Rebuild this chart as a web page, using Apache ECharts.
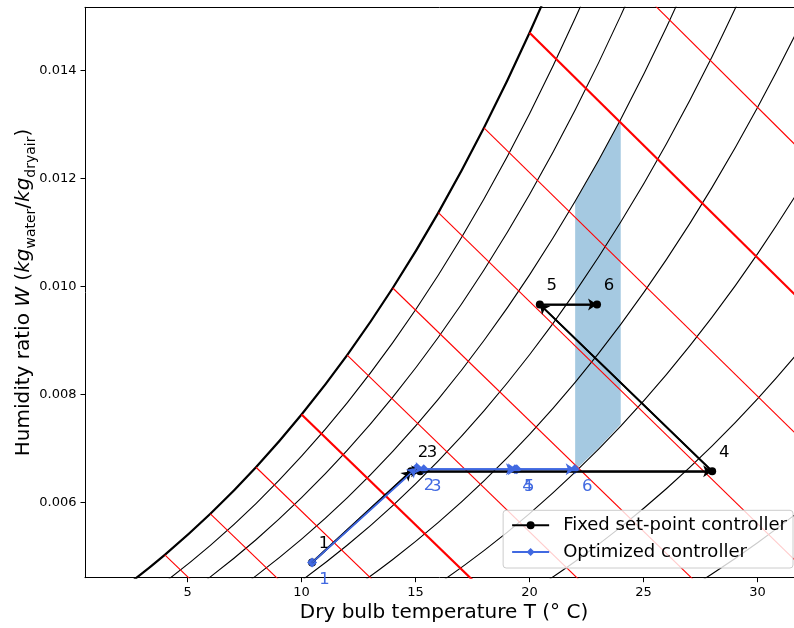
<!DOCTYPE html>
<html>
<head>
<meta charset="utf-8">
<script src="https://cdn.jsdelivr.net/npm/echarts@6/dist/echarts.min.js"></script>
<style>html,body{margin:0;padding:0;background:#fff;overflow:hidden}#chart{width:794px;height:628px}</style>
</head>
<body>
<div id="chart"></div>
<script>
// ---------- data ----------
const rhTemps = [0,2,4,6,8,10,12,14,16,18,20,22,24,26,28,30,32,34];
const rh100 = [0.003775,0.004364,0.005034,0.005793,0.006655,0.007632,0.008732,0.009973,0.011369,0.012938,0.014699,0.016673,null,null,null,null,null,null];
const rh90  = [0.003395,0.003925,0.004527,0.005209,0.005983,0.006860,0.007848,0.008961,0.010213,0.011620,0.013198,0.014966,0.016944,null,null,null,null,null];
const rh80  = [0.003016,0.003487,0.004021,0.004626,0.005313,0.006091,0.006966,0.007953,0.009062,0.010308,0.011704,0.013268,0.015016,0.016970,null,null,null,null];
const rh70  = [0.002637,0.003049,0.003515,0.004044,0.004644,0.005323,0.006087,0.006948,0.007915,0.009001,0.010217,0.011578,0.013099,0.014798,0.016691,null,null,null];
const rh60  = [0.002259,0.002611,0.003011,0.003463,0.003976,0.004557,0.005210,0.005946,0.006772,0.007699,0.008737,0.009898,0.011194,0.012641,0.014252,0.016045,null,null];
const rh50  = [null,null,null,null,0.003310,0.003793,0.004336,0.004947,0.005633,0.006402,0.007264,0.008226,0.009301,0.010498,0.011832,0.013314,0.014959,0.016784];
const rh40  = [null,null,null,null,null,null,0.003464,0.003951,0.004498,0.005111,0.005797,0.006564,0.007418,0.008371,0.009429,0.010605,0.011910,0.013355];
const rh30  = [null,null,null,null,null,null,null,null,0.003368,0.003826,0.004338,0.004910,0.005547,0.006257,0.007045,0.007920,0.008890,0.009963];
const rh20  = [null,null,null,null,null,null,null,null,null,null,null,0.003265,0.003687,0.004157,0.004679,0.005258,0.005898,0.006607];
const rhLevels = [100,90,80,70,60,50,40,30,20];

// wet-bulb (red) lines: start on saturation, end point beyond the frame
const wbTemps = [4,6,8,10,12,14,16,18,20,22];
const wbSatW  = [0.005034,0.005793,0.006655,0.007632,0.008732,0.009973,0.011369,0.012938,0.014699,0.016673];
const wbEndT  = [8,12,16,20,26,32,34,34,34,34];
const wbEndW  = [0.003409,0.003351,0.003393,0.003545,0.003005,0.002602,0.003965,0.006316,0.008867,0.011639];

// comfort zone polygon
const comfortT = [22,22,23,24,24,23];
const comfortW = [0.00660,0.01157,0.01231,0.01310,0.00745,0.00700];

// controllers
const fixedT = [10.46,14.80,15.20,28.01,20.45,22.96];
const fixedW = [0.00489,0.00658,0.00658,0.00658,0.00967,0.00967];
const fixedLabels = ['1','2','3','4','5','6'];
const optT = [10.46,15.04,15.36,19.36,19.44,21.98];
const optW = [0.00489,0.00664,0.00662,0.00662,0.00662,0.00662];
const optLabels = ['1','2','3','4','5','6'];

// axes
const xTickValues = [5,10,15,20,25,30];
const xTickLabels = ['5','10','15','20','25','30'];
const yTickValues = [0.006,0.008,0.010,0.012,0.014];
const yTickLabels = ['0.006','0.008','0.010','0.012','0.014'];
const xMin = 0.5, xMax = 31.6, yMin = 0.00461, yMax = 0.01517;

// ---------- chart ----------
const FONT = 'DejaVu Sans';
const BLUE = '#4169e1';
function pairs(ts, ws){ return ts.map((t,i)=>[t, ws[i]]).filter(p=>p[1]!=null); }
function segs(ts, ws){ const out=[]; for(let i=0;i<ts.length-1;i++){ out.push({coords:[[ts[i],ws[i]],[ts[i+1],ws[i+1]]]}); } return out; }
function lookup(vals, labels, v){ for(let i=0;i<vals.length;i++){ if(Math.abs(vals[i]-v)<1e-9) return labels[i]; } return ''; }

const rhArrays = [rh100,rh90,rh80,rh70,rh60,rh50,rh40,rh30,rh20];
const series = [];

series.push({
  type:'custom', silent:true, z:1, clip:true,
  data:[[comfortT[0], comfortW[0]]],
  renderItem:(params, api)=>{
    const pts = comfortT.map((t,i)=>api.coord([t, comfortW[i]]));
    return {type:'polygon', shape:{points:pts}, style:{fill:'rgba(31,119,180,0.4)'}};
  }
});

rhArrays.forEach((arr, k)=>{
  series.push({
    type:'line', silent:true, z:2, clip:true, smooth:0.4, symbol:'none',
    data: pairs(rhTemps, arr),
    lineStyle:{color:'#000', width: rhLevels[k]===100 ? 2.2 : 1.1}
  });
});

wbTemps.forEach((t, k)=>{
  series.push({
    type:'line', silent:true, z:2, clip:true, symbol:'none',
    data: [[t, wbSatW[k]], [wbEndT[k], wbEndW[k]]],
    lineStyle:{color:'#ff0000', width: (t % 10 === 0) ? 2.2 : 1.1}
  });
});

series.push({
  name:'Fixed set-point controller', type:'line', z:5,
  data: pairs(fixedT, fixedW), symbol:'circle', symbolSize:8,
  lineStyle:{color:'#000', width:2}, itemStyle:{color:'#000'},
  label:{show:true, position:'inside', offset:[12,-18.5], fontFamily:FONT, fontSize:16.5, color:'#000',
         formatter:p=>fixedLabels[p.dataIndex]}
});
series.push({
  name:'Optimized controller', type:'line', z:5,
  data: pairs(optT, optW), symbol:'diamond', symbolSize:[10,10],
  lineStyle:{color:BLUE, width:2}, itemStyle:{color:BLUE},
  label:{show:true, position:'inside', offset:[12.5,17.5], fontFamily:FONT, fontSize:16.5, color:BLUE,
         formatter:p=>optLabels[p.dataIndex]}
});
series.push({
  type:'lines', coordinateSystem:'cartesian2d', silent:true, z:6,
  symbol:['none','arrow'], symbolSize:9,
  lineStyle:{color:'#000', width:1.5, opacity:1, curveness:0},
  data: segs(fixedT, fixedW)
});
series.push({
  type:'lines', coordinateSystem:'cartesian2d', silent:true, z:6,
  symbol:['none','arrow'], symbolSize:9,
  lineStyle:{color:BLUE, width:1.5, opacity:1, curveness:0},
  data: segs(optT, optW)
});

const chart = echarts.init(document.getElementById('chart'), null, {renderer:'canvas'});
chart.setOption({
  animation:false,
  backgroundColor:'#fff',
  grid:{left:85, right:0, top:7.3, bottom:50.3, show:false, containLabel:false, outerBoundsMode:'none'},
  xAxis:[{
    type:'value', min:xMin, max:xMax, position:'bottom',
    axisLine:{show:true, onZero:false, lineStyle:{color:'#000', width:1}},
    axisTick:{show:true, length:4.5, customValues:xTickValues, lineStyle:{color:'#000'}},
    axisLabel:{customValues:xTickValues, formatter:v=>lookup(xTickValues, xTickLabels, v), margin:8.5, fontFamily:FONT, fontSize:13, color:'#000'},
    splitLine:{show:false},
    name:'Dry bulb temperature T (° C)', nameLocation:'middle', nameGap:25, nameMoveOverlap:false,
    nameTextStyle:{fontFamily:FONT, fontSize:20, color:'#000', padding:[0,0,0,9]}
  },{
    type:'value', min:xMin, max:xMax, position:'top',
    axisLine:{show:true, onZero:false, lineStyle:{color:'#000', width:1}},
    axisTick:{show:false}, axisLabel:{show:false}, splitLine:{show:false}
  }],
  yAxis:{
    type:'value', min:yMin, max:yMax,
    axisLine:{show:true, onZero:false, lineStyle:{color:'#000', width:1}},
    axisTick:{show:true, length:4.5, customValues:yTickValues, lineStyle:{color:'#000'}},
    axisLabel:{customValues:yTickValues, formatter:v=>lookup(yTickValues, yTickLabels, v), margin:8.5, fontFamily:FONT, fontSize:13, color:'#000'},
    splitLine:{show:false},
    name:'{n|Humidity ratio }{i|W}{n| (}{i|kg}{s|water}{n|/}{i|kg}{s|dryair}{n|)}',
    nameLocation:'middle', nameGap:47, nameRotate:90, nameMoveOverlap:false,
    nameTextStyle:{fontFamily:FONT, fontSize:20, color:'#000',
      rich:{
        n:{fontFamily:FONT, fontSize:20, color:'#000', lineHeight:24, verticalAlign:'top'},
        i:{fontFamily:FONT, fontSize:20, color:'#000', lineHeight:24, verticalAlign:'top', fontStyle:'italic'},
        s:{fontFamily:FONT, fontSize:14, color:'#000', lineHeight:14, verticalAlign:'top', padding:[10,0,0,0]}
      }}
  },
  legend:{
    data:['Fixed set-point controller','Optimized controller'],
    orient:'vertical', right:1, bottom:60, z:10,
    itemWidth:37, itemHeight:10, itemGap:6.7, padding:[5,6,6,8],
    backgroundColor:'rgba(255,255,255,0.8)', borderColor:'#cccccc', borderWidth:1, borderRadius:3,
    selectedMode:false,
    textStyle:{fontFamily:FONT, fontSize:18, color:'#000', lineHeight:20, padding:[0,0,0,9]}
  },
  series:series
});
</script>
</body>
</html>
